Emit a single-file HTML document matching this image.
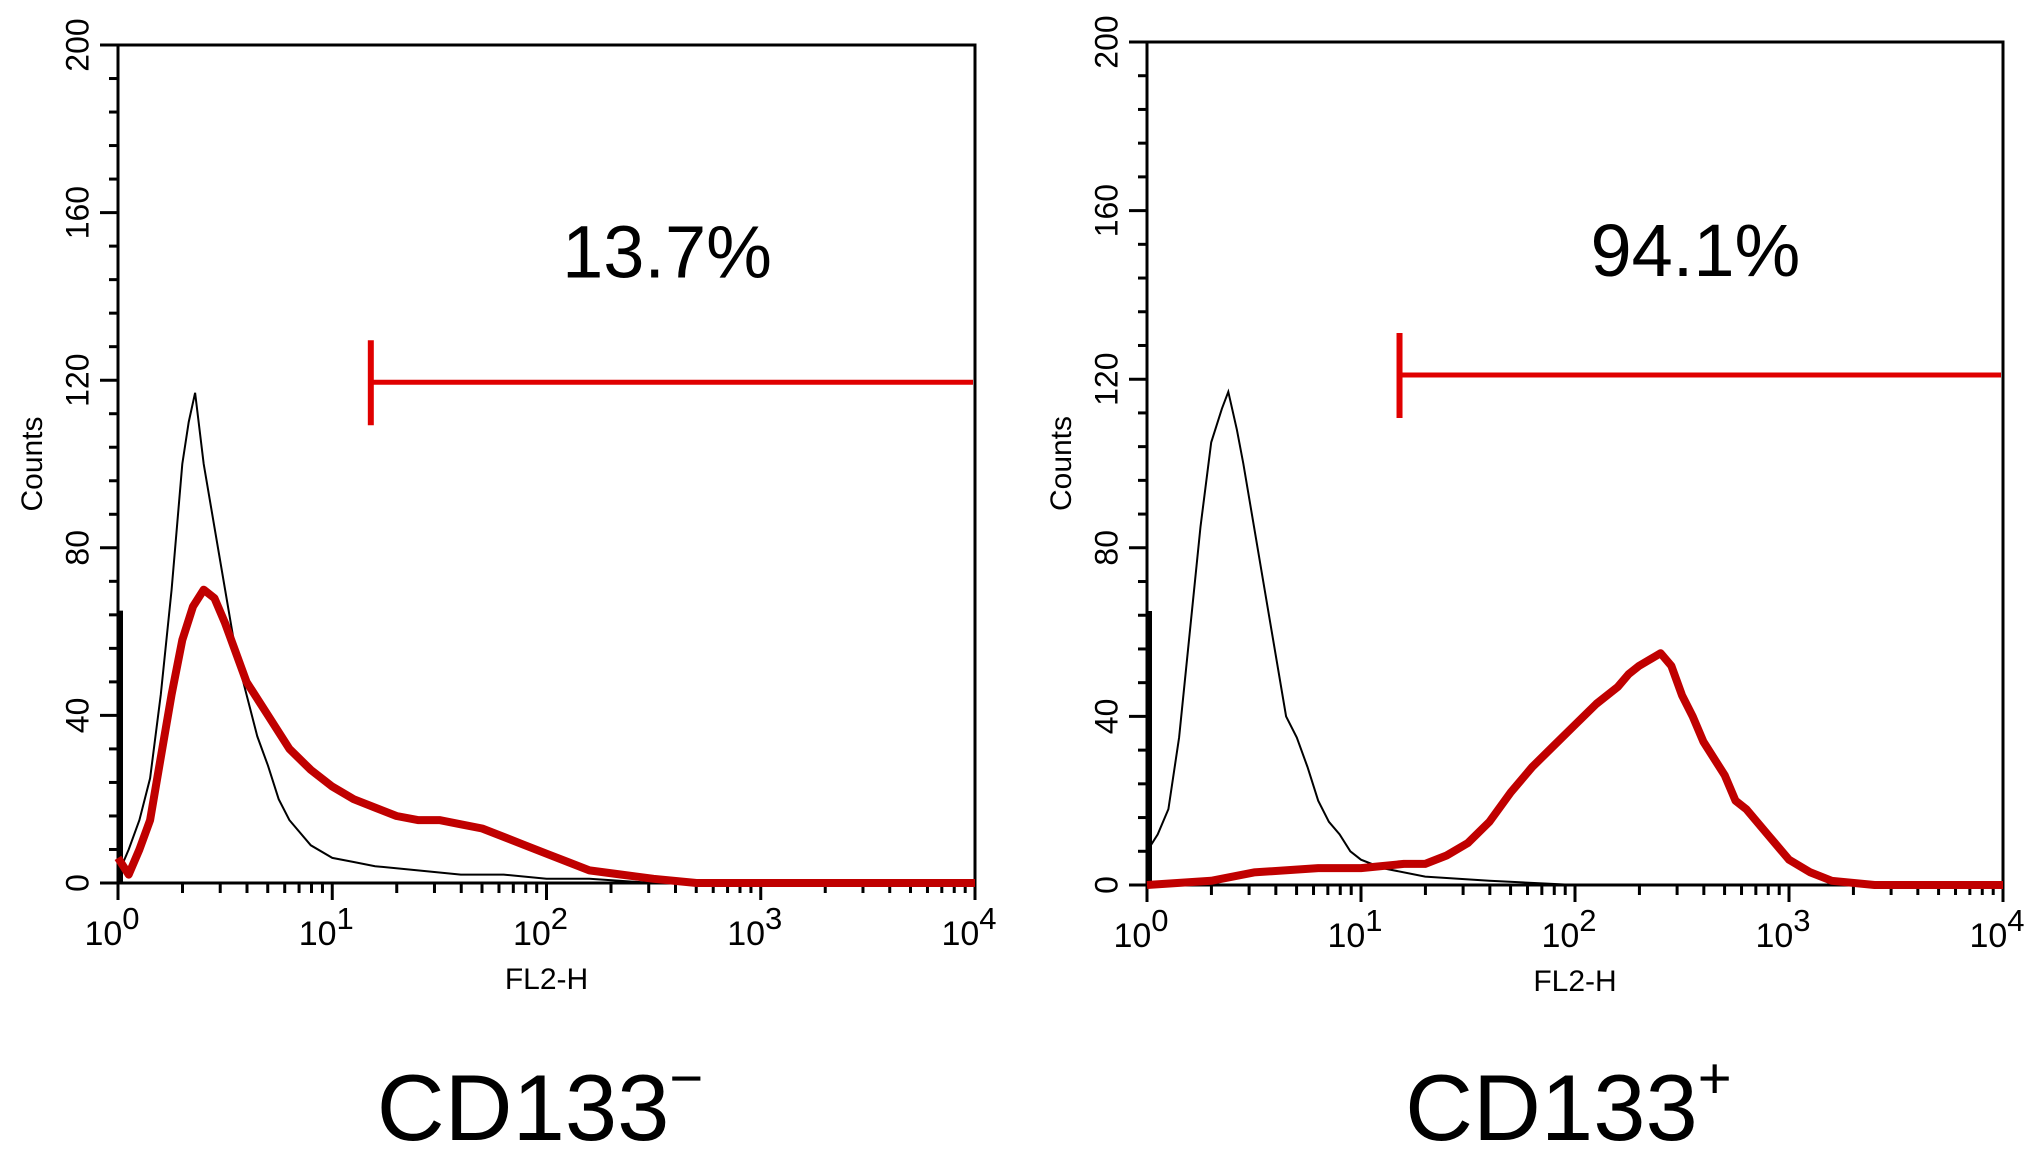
<!DOCTYPE html>
<html><head><meta charset="utf-8"><style>
html,body{margin:0;padding:0;background:#fff;}
svg{display:block;font-family:"Liberation Sans",Arial,sans-serif;}
</style></head><body>
<svg id="fig" width="2031" height="1158" viewBox="0 0 2031 1158" xmlns="http://www.w3.org/2000/svg"></svg>
<script>
// ---- data (x in log10 decades, y in counts) ----
const yTicks = [0, 40, 80, 120, 160, 200];
const xDecades = [0, 1, 2, 3, 4];
const negBlackX = [0,0.05,0.1,0.15,0.2,0.25,0.3,0.33,0.36,0.4,0.45,0.5,0.55,0.6,0.65,0.7,0.75,0.8,0.9,1.0,1.1,1.2,1.4,1.6,1.8,2.0,2.2,2.5,3,4];
const negBlackY = [2,8,15,25,45,70,100,110,117,100,85,70,55,45,35,28,20,15,9,6,5,4,3,2,2,1,1,0,0,0];
const negRedX = [0,0.05,0.1,0.15,0.2,0.25,0.3,0.35,0.4,0.45,0.5,0.55,0.6,0.7,0.8,0.9,1.0,1.1,1.2,1.3,1.4,1.5,1.6,1.7,1.8,1.9,2.0,2.1,2.2,2.35,2.5,2.7,3,4];
const negRedY = [6,2,8,15,30,45,58,66,70,68,62,55,48,40,32,27,23,20,18,16,15,15,14,13,11,9,7,5,3,2,1,0,0,0];
const posBlackX = [0,0.05,0.1,0.15,0.2,0.25,0.3,0.35,0.38,0.42,0.45,0.5,0.55,0.6,0.65,0.7,0.75,0.8,0.85,0.9,0.95,1.0,1.1,1.3,1.6,2,4];
const posBlackY = [8,12,18,35,60,85,105,113,117,108,100,85,70,55,40,35,28,20,15,12,8,6,4,2,1,0,0];
const posRedX = [0,0.3,0.5,0.8,1.0,1.2,1.3,1.4,1.5,1.6,1.7,1.8,1.9,2.0,2.1,2.2,2.25,2.3,2.4,2.45,2.5,2.55,2.6,2.7,2.75,2.8,2.9,3.0,3.1,3.2,3.4,4];
const posRedY = [0,1,3,4,4,5,5,7,10,15,22,28,33,38,43,47,50,52,55,52,45,40,34,26,20,18,12,6,3,1,0,0];
const panels = [
  {name:'cd133-negative', x0:118, x1:975, y0:883, y1:45, pct:'13.7%', label:'CD133', sup:'\u2212', gateLog:1.18, gateCount:119.5, black:[negBlackX,negBlackY], red:[negRedX,negRedY], spike:65},
  {name:'cd133-positive', x0:1147, x1:2003, y0:885, y1:42, pct:'94.1%', label:'CD133', sup:'+', gateLog:1.18, gateCount:121, black:[posBlackX,posBlackY], red:[posRedX,posRedY], spike:65}
];
const NS='http://www.w3.org/2000/svg';
const svg=document.getElementById('fig');
function el(tag,attrs,parent){const e=document.createElementNS(NS,tag);for(const k in attrs)e.setAttribute(k,attrs[k]);(parent||svg).appendChild(e);return e;}
panels.forEach(p=>{
  const g=el('g',{});
  
  
  const sx=v=>p.x0+(p.x1-p.x0)*v/4;
  const sy=v=>p.y0+(p.y1-p.y0)*v/200;
  const box=el('rect',{x:p.x0,y:p.y1,width:p.x1-p.x0,height:p.y0-p.y1,fill:'none',stroke:'#000','stroke-width':3},g);
  
  
  for(let v=0;v<=200;v+=8){const major=v%40===0;el('line',{x1:p.x0-(major?18:9),x2:p.x0,y1:sy(v),y2:sy(v),stroke:'#000','stroke-width':3},g);}
  yTicks.forEach(v=>{const t=el('text',{x:0,y:0,'font-size':32,'text-anchor':'middle',transform:`translate(${p.x0-38},${sy(v)}) rotate(-90)`,'dominant-baseline':'middle'},g);t.textContent=v;
    
    });
  xDecades.forEach(d=>{
    el('line',{x1:sx(d),x2:sx(d),y1:p.y0,y2:p.y0+17,stroke:'#000','stroke-width':3},g);
    if(d<4){for(let m=2;m<=9;m++){const xx=sx(d+Math.log10(m));el('line',{x1:xx,x2:xx,y1:p.y0,y2:p.y0+10,stroke:'#000','stroke-width':3},g);}}
    const t=el('text',{x:sx(d)-6,y:p.y0+62,'font-size':34,'text-anchor':'middle'},g);
    t.textContent='10';
    
    
    const s=el('tspan',{dy:-16,'font-size':31},t);s.textContent=d;
  });
  const xt=el('text',{x:(p.x0+p.x1)/2,y:p.y0+106,'font-size':30,'text-anchor':'middle'},g);xt.textContent='FL2-H';
  
  
  const yt=el('text',{x:0,y:0,'font-size':30,'text-anchor':'middle',transform:`translate(${p.x0-84},${sy(100)}) rotate(-90)`,'dominant-baseline':'middle'},g);yt.textContent='Counts';
  
  
  const sp=el('line',{x1:p.x0+3,x2:p.x0+3,y1:p.y0,y2:sy(p.spike),stroke:'#000','stroke-width':4},g);
  
  
  const bpts=p.black[0].map((x,i)=>sx(x).toFixed(1)+','+sy(p.black[1][i]).toFixed(1)).join(' ');
  const bl=el('polyline',{points:bpts,fill:'none',stroke:'#000','stroke-width':2},g);
  
  
  const rpts=p.red[0].map((x,i)=>sx(x).toFixed(1)+','+sy(p.red[1][i]).toFixed(1)).join(' ');
  const rl=el('polyline',{points:rpts,fill:'none',stroke:'#c00000','stroke-width':8,'stroke-linejoin':'round'},g);
  
  
  const gx=sx(p.gateLog), gy=sy(p.gateCount);
  const gh=el('line',{x1:gx,x2:p.x1-2,y1:gy,y2:gy,stroke:'#e00000','stroke-width':5},g);
  
  
  const gv=el('line',{x1:gx,x2:gx,y1:gy-42,y2:gy+43,stroke:'#e00000','stroke-width':6},g);
  
  
  const pt=el('text',{x:sx(2.6)-8,y:sy(150)+23,'font-size':74,'text-anchor':'middle'},g);pt.textContent=p.pct;
  
  
  const lb=el('text',{x:sx(2.6)-135,y:1140,'font-size':94,'text-anchor':'middle'},g);lb.textContent=p.label;
  
  
  const su=el('tspan',{dy:-42,'font-size':58},lb);su.textContent=p.sup;
});
</script>
</body></html>
